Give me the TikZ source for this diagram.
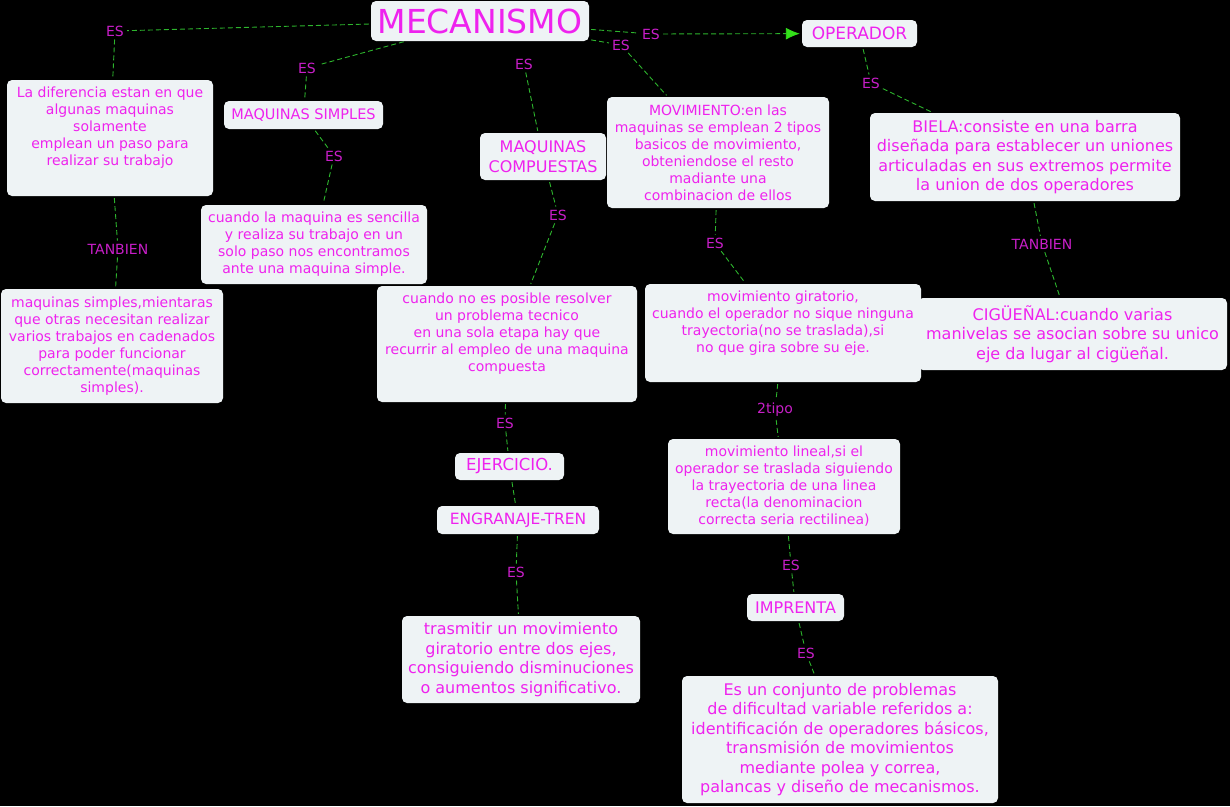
\documentclass[tikz,border=0pt]{standalone}
\usepackage{fontspec}
\setmainfont{DejaVu Sans}
\usetikzlibrary{arrows.meta}
\definecolor{fondo}{HTML}{EEF3F5}
\definecolor{texto}{HTML}{EE22EE}
\definecolor{etiq}{HTML}{C81EC8}
\definecolor{linea}{HTML}{2DB52D}
\definecolor{flecha}{HTML}{33E01A}
\newcommand{\chica}{\fontsize{14}{17}\selectfont}
\newcommand{\grande}{\fontsize{16}{19.5}\selectfont}
\newcommand{\arriba}[3]{\parbox[c][#2][t]{#1}{\centering\vspace*{2pt}#3}}
\begin{document}
\begin{tikzpicture}[x=1pt,y=-1pt,
	caja/.style={fill=fondo,rounded corners=5pt,text=texto,align=center,inner sep=5pt},
	es/.style={fill=black,text=etiq,inner sep=1pt,font=\chica},
	con/.style={linea,line width=0.9pt,dash pattern=on 5pt off 3pt,shorten >=2pt,shorten <=2pt}]
			\fill[black] (0,0) rectangle (1230,806);
			\useasboundingbox (0,0) rectangle (1230,806);
			\node[caja,font=\fontsize{33}{36}\selectfont,minimum width=218pt,minimum height=40pt,inner sep=2pt] (mec) at (480,21) {MECANISMO};
			\node[caja,font=\fontsize{17}{20}\selectfont,minimum width=115pt,minimum height=27pt,inner sep=2pt] (oper) at (859.5,33.5) {OPERADOR};
			\node[caja,font=\chica,minimum width=206pt,minimum height=116pt] (dif) at (110,138) {\arriba{196pt}{106pt}{La diferencia estan en que\\algunas maquinas\\solamente\\emplean un paso para\\realizar su trabajo}};
			\node[caja,font=\fontsize{14.5}{17}\selectfont,minimum width=159pt,minimum height=28pt,inner sep=2pt] (msim) at (303.5,115) {MAQUINAS SIMPLES};
			\node[caja,font=\grande,minimum width=126pt,minimum height=47pt,inner sep=2pt] (mcomp) at (543,156.5) {MAQUINAS\\COMPUESTAS};
			\node[caja,font=\chica,minimum width=222pt,minimum height=111pt] (movim) at (718,152.5) {MOVIMIENTO:en las\\maquinas se emplean 2 tipos\\basicos de movimiento,\\obteniendose el resto\\madiante una\\combinacion de ellos};
			\node[caja,font=\grande,minimum width=310pt,minimum height=88pt] (biela) at (1025,157) {BIELA:consiste en una barra\\diseñada para establecer un uniones\\articuladas en sus extremos permite\\la union de dos operadores};
			\node[caja,font=\chica,minimum width=226pt,minimum height=79pt] (sencilla) at (314,244.5) {cuando la maquina es sencilla\\y realiza su trabajo en un\\solo paso nos encontramos\\ante una maquina simple.};
			\node[caja,font=\chica,minimum width=222pt,minimum height=114pt] (mient) at (112,346) {maquinas simples,mientaras\\que otras necesitan realizar\\varios trabajos en cadenados\\para poder funcionar\\correctamente(maquinas\\simples).};
			\node[caja,font=\chica,minimum width=260pt,minimum height=116pt] (nocomp) at (507,344) {\arriba{250pt}{106pt}{cuando no es posible resolver\\un problema tecnico\\en una sola etapa hay que\\recurrir al empleo de una maquina\\compuesta}};
			\node[caja,font=\chica,minimum width=276pt,minimum height=98pt] (girat) at (783,333) {\arriba{266pt}{88pt}{movimiento giratorio,\\cuando el operador no sique ninguna\\trayectoria(no se traslada),si\\no que gira sobre su eje.}};
			\node[caja,font=\grande,minimum width=309pt,minimum height=72pt] (cig) at (1072.5,334) {CIGÜEÑAL:cuando varias\\manivelas se asocian sobre su unico\\eje da lugar al cigüeñal.};
			\node[caja,font=\fontsize{16.5}{19}\selectfont,minimum width=109pt,minimum height=27pt,inner sep=2pt] (ejer) at (509.5,466.5) {EJERCICIO.};
			\node[caja,font=\fontsize{15.5}{19}\selectfont,minimum width=162pt,minimum height=28pt,inner sep=2pt] (engr) at (518,520) {ENGRANAJE-TREN};
			\node[caja,font=\chica,minimum width=232pt,minimum height=95pt] (lineal) at (784,486.5) {movimiento lineal,si el\\operador se traslada siguiendo\\la trayectoria de una linea\\recta(la denominacion\\correcta seria rectilinea)};
			\node[caja,font=\grande,minimum width=238pt,minimum height=87pt] (trasm) at (521,659.5) {trasmitir un movimiento\\giratorio entre dos ejes,\\consiguiendo disminuciones\\o aumentos significativo.};
			\node[caja,font=\fontsize{16}{19}\selectfont,minimum width=97pt,minimum height=27pt,inner sep=2pt] (impr) at (795.5,607.5) {IMPRENTA};
			\node[caja,font=\grande,minimum width=316pt,minimum height=127pt] (conj) at (840,739.5) {Es un conjunto de problemas\\de dificultad variable referidos a:\\identificación de operadores básicos,\\transmisión de movimientos\\mediante polea y correa,\\palancas y diseño de mecanismos.};
			\node[es] (es1) at (115,31) {ES};
			\node[es] (es2) at (307,68) {ES};
			\node[es] (es3) at (334,156) {ES};
			\node[es] (es4) at (524,64) {ES};
			\node[es] (es5) at (558,215) {ES};
			\node[es] (es6) at (651,34) {ES};
			\node[es] (es7) at (621,45) {ES};
			\node[es] (es8) at (871,83) {ES};
			\node[es] (es9) at (715,243) {ES};
			\node[es] (es10) at (505,423) {ES};
			\node[es] (es11) at (516,572) {ES};
			\node[es] (es12) at (791,565) {ES};
			\node[es] (es13) at (806,653) {ES};
			\node[es] (tan1) at (118,249) {TANBIEN};
			\node[es] (tan2) at (1042,244) {TANBIEN};
			\node[es] (tipo) at (775,410) {2tipo};
			\draw[con] (mec) -- (es1);
			\draw[con] (es1) -- (dif);
			\draw[con] (mec) -- (es2);
			\draw[con] (es2) -- (msim);
			\draw[con] (msim) -- (es3);
			\draw[con] (es3) -- (sencilla);
			\draw[con] (es4) -- (mcomp);
			\draw[con] (mcomp) -- (es5);
			\draw[con] (es5) -- (nocomp);
			\draw[con] (mec) -- (es6);
			\draw[con,-{Latex[length=14pt,width=12pt,color=flecha]}] (es6) -- (oper);
			\draw[con] (mec) -- (es7);
			\draw[con] (es7) -- (movim);
			\draw[con] (oper) -- (es8);
			\draw[con] (es8) -- (biela);
			\draw[con] (biela) -- (tan2);
			\draw[con] (tan2) -- (cig);
			\draw[con] (dif) -- (tan1);
			\draw[con] (tan1) -- (mient);
			\draw[con] (movim) -- (es9);
			\draw[con] (es9) -- (girat);
			\draw[con] (nocomp) -- (es10);
			\draw[con] (es10) -- (ejer);
			\draw[con] (ejer) -- (engr);
			\draw[con] (engr) -- (es11);
			\draw[con] (es11) -- (trasm);
			\draw[con] (girat) -- (tipo);
			\draw[con] (tipo) -- (lineal);
			\draw[con] (lineal) -- (es12);
			\draw[con] (es12) -- (impr);
			\draw[con] (impr) -- (es13);
			\draw[con] (es13) -- (conj);
		\end{tikzpicture}
\end{document}
